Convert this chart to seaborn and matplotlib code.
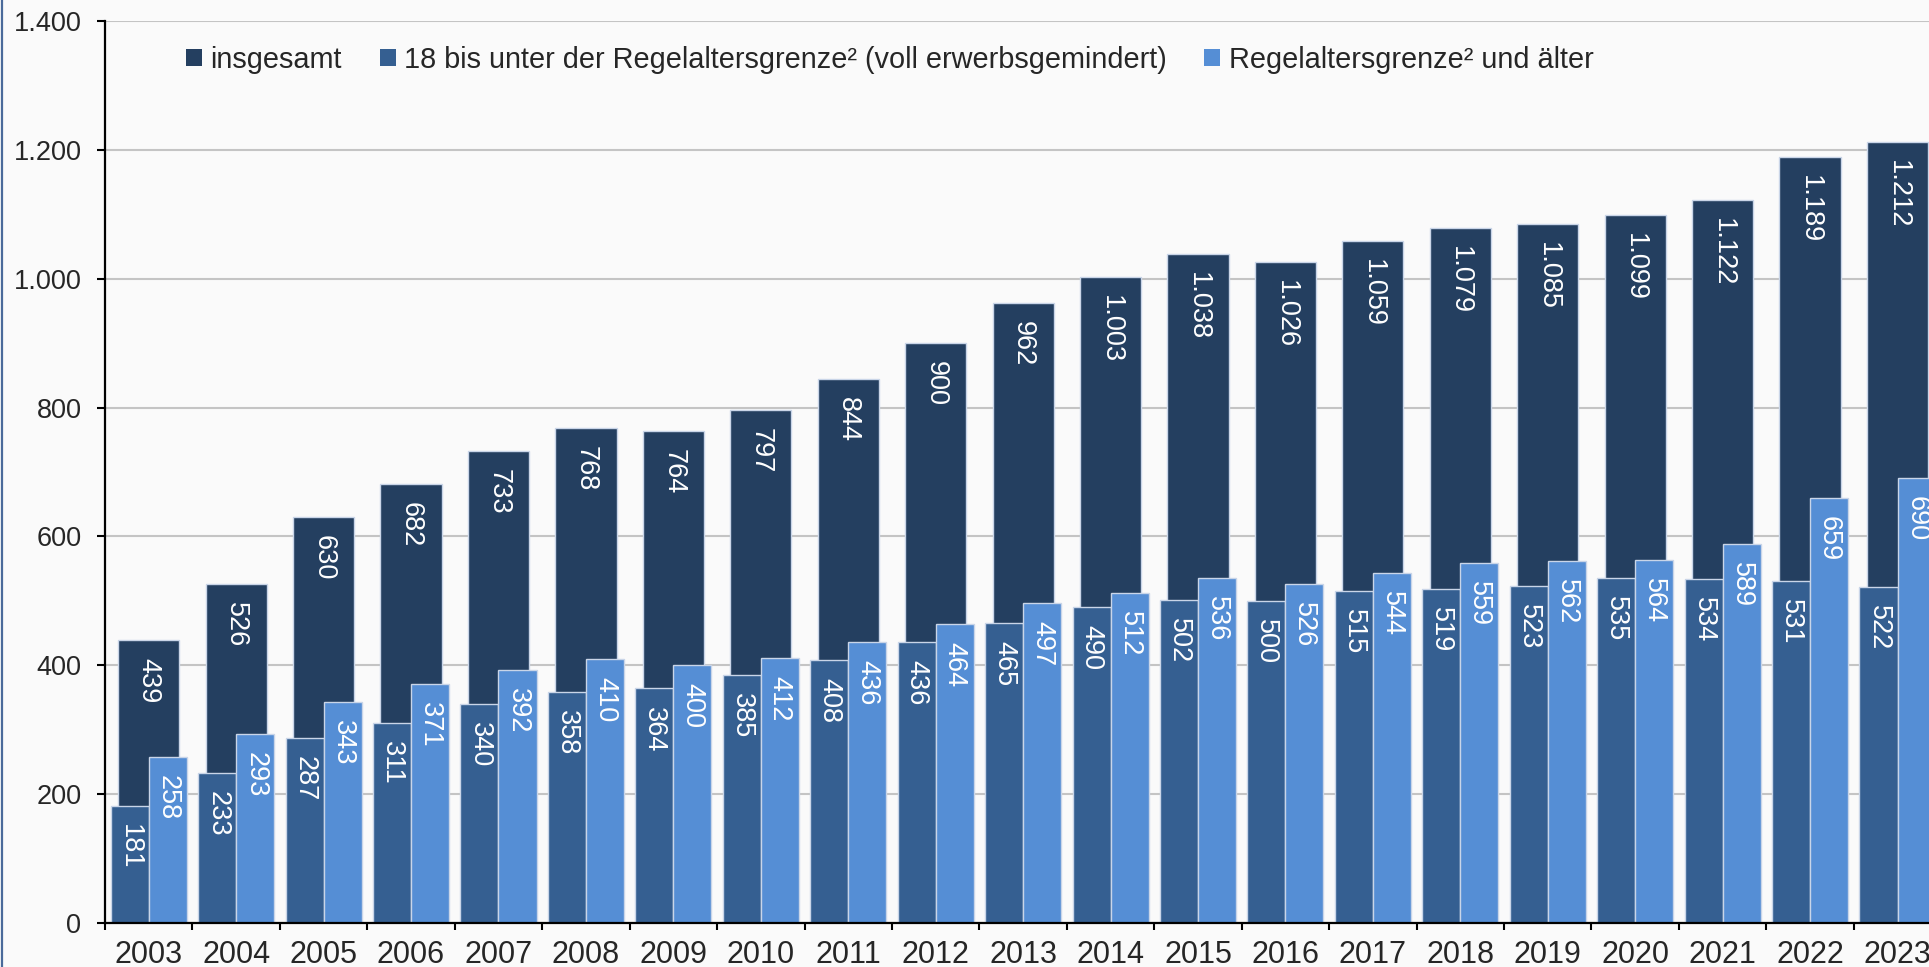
import matplotlib
matplotlib.use("Agg")
import matplotlib.pyplot as plt
from matplotlib.patches import Patch
from matplotlib.lines import Line2D
from matplotlib.ticker import MultipleLocator, FixedLocator, FuncFormatter
import seaborn as sns
import pandas as pd

years = [str(y) for y in range(2003, 2024)]
insgesamt = [439, 526, 630, 682, 733, 768, 764, 797, 844, 900, 962, 1003, 1038, 1026,
             1059, 1079, 1085, 1099, 1122, 1189, 1212]
erwerbsgemindert = [181, 233, 287, 311, 340, 358, 364, 385, 408, 436, 465, 490, 502, 500,
                    515, 519, 523, 535, 534, 531, 522]
regelalter = [258, 293, 343, 371, 392, 410, 400, 412, 436, 464, 497, 512, 536, 526,
              544, 559, 562, 564, 589, 659, 690]

lab_total = "insgesamt"
lab_erw = "18 bis unter der Regelaltersgrenze² (voll erwerbsgemindert)"
lab_alt = "Regelaltersgrenze² und älter"

c_total = "#243F60"
c_erw = "#355F91"
c_alt = "#558ED5"
c_edge = "#C9D5E8"
bg = "#FAFAFA"

sns.set_style("white")
plt.rcParams["font.family"] = ["Liberation Sans", "DejaVu Sans"]

df_total = pd.DataFrame({"Jahr": years, "Wert": insgesamt})
df_front = pd.DataFrame({
    "Jahr": years + years,
    "Wert": erwerbsgemindert + regelalter,
    "Gruppe": [lab_erw] * len(years) + [lab_alt] * len(years),
})

fig = plt.figure(figsize=(19.29, 9.67), dpi=100, facecolor=bg)
ax = fig.add_axes([105 / 1929, 1 - 923 / 967, 1 - 105 / 1929, (923 - 21) / 967])
ax.set_facecolor(bg)

sns.barplot(data=df_total, x="Jahr", y="Wert", color=c_total, width=0.70,
            saturation=1, edgecolor=c_edge, linewidth=1, ax=ax, order=years,
            errorbar=None)
sns.barplot(data=df_front, x="Jahr", y="Wert", hue="Gruppe",
            hue_order=[lab_erw, lab_alt], palette=[c_erw, c_alt], width=0.87,
            saturation=1, edgecolor=c_edge, linewidth=1, ax=ax, order=years,
            errorbar=None, legend=False)

# value labels, rotated, inside top of bars
for cont in ax.containers:
    for p in cont.patches:
        h = p.get_height()
        txt = f"{int(round(h)):,}".replace(",", ".")
        ax.annotate(txt, (p.get_x() + p.get_width() / 2, h), xytext=(0, -13),
                    textcoords="offset points", rotation=270, ha="center",
                    va="top", color="white", fontsize=19.5, zorder=5)

ax.set_ylim(0, 1400)
ax.set_xlim(-0.5, 20.36)
ax.yaxis.set_major_locator(MultipleLocator(200))
ax.yaxis.set_major_formatter(FuncFormatter(lambda v, _: f"{int(v):,}".replace(",", ".")))
ax.yaxis.grid(True, color="#C4C4C4", linewidth=1.5)
ax.xaxis.grid(False)
ax.set_axisbelow(True)

ax.set_xlabel("")
ax.set_ylabel("")
for s in ["top", "right"]:
    ax.spines[s].set_visible(False)
for s in ["left", "bottom"]:
    ax.spines[s].set_color("black")
    ax.spines[s].set_linewidth(1.6)

ax.tick_params(axis="y", which="major", direction="out", length=6, width=1.5,
               color="black", pad=11, labelsize=19.5, left=True)
ax.xaxis.set_minor_locator(FixedLocator([i - 0.5 for i in range(len(years) + 1)]))
ax.tick_params(axis="x", which="major", length=0, pad=12, labelsize=22)
ax.tick_params(axis="x", which="minor", direction="out", length=5, width=1.5,
               color="black", bottom=True)

handles = [Patch(facecolor=c_total, edgecolor="none"),
           Patch(facecolor=c_erw, edgecolor="none"),
           Patch(facecolor=c_alt, edgecolor="none")]
fig.legend(handles, [lab_total, lab_erw, lab_alt], loc="center left",
           bbox_to_anchor=(186 / 1929, 1 - 60 / 967), ncol=3, frameon=False,
           fontsize=20.8, handlelength=0.55, handleheight=0.55, handletextpad=0.3,
           columnspacing=1.3, borderpad=0, borderaxespad=0)

fig.add_artist(Line2D([0.0008, 0.0008], [0, 1], transform=fig.transFigure,
                      color="#4A6A9A", linewidth=1.6))

fig.savefig("out.png", dpi=100, facecolor=bg)
